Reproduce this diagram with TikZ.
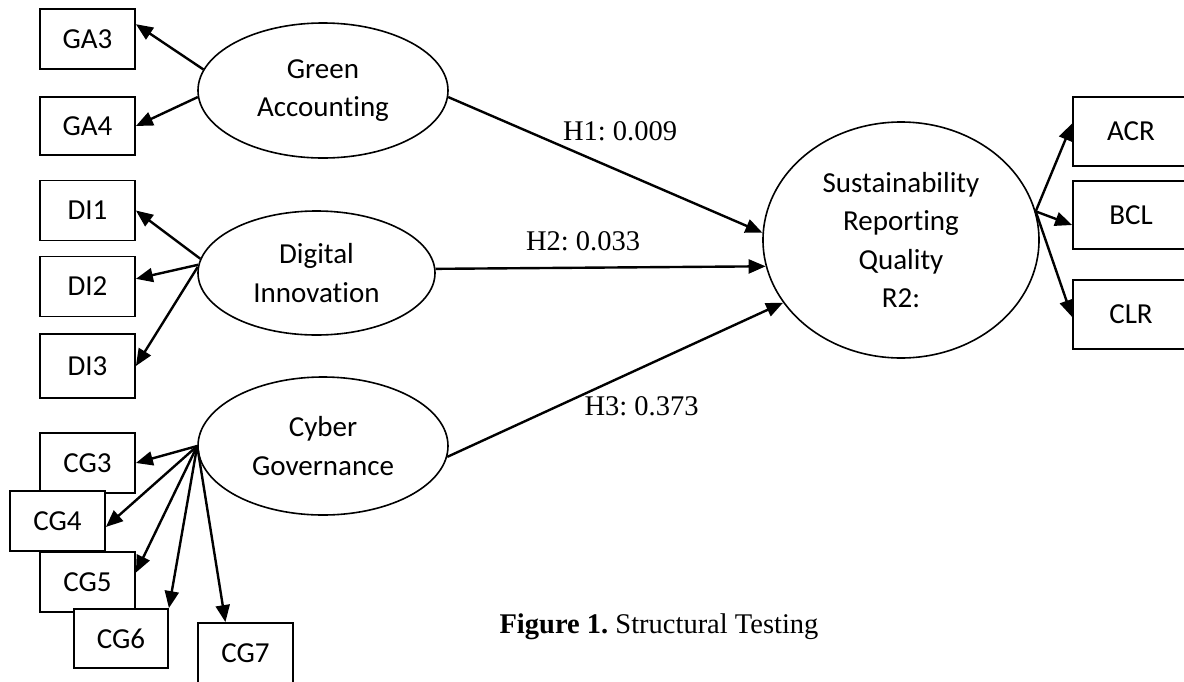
\documentclass[tikz,border=0pt]{standalone}
\usepackage{fontspec}
\setmainfont{Liberation Serif}
\newfontfamily\calibri[Ligatures=NoCommon]{Carlito}
\usetikzlibrary{arrows.meta,shapes.geometric}
\frenchspacing
\begin{document}
\begin{tikzpicture}[x=1pt,y=-1pt,
  ind/.style={draw,line width=1.8pt,fill=white,minimum width=95pt,minimum height=60pt,
    inner sep=0pt,font=\calibri\fontsize{29}{38.5}\selectfont},
  lat/.style={draw,ellipse,line width=1.6pt,inner sep=0pt,align=center,
    font=\calibri\fontsize{29}{38.5}\selectfont},
  ld/.style={line width=2.4pt,-{Triangle[length=17pt,width=14pt]}},
  coef/.style={font=\fontsize{28.5}{34}\selectfont,anchor=base,inner sep=0pt}]
\useasboundingbox (0,0) rectangle (1184,681);
\clip (0,0) rectangle (1184,681);

% latent constructs
\node[lat,minimum width=250pt,minimum height=135pt] (ga) at (323,90.5) {Green\\Accounting};
\node[lat,minimum width=237pt,minimum height=124pt] (di) at (316.5,273) {Digital\\Innovation};
\node[lat,minimum width=250pt,minimum height=138pt] (cg) at (323,446) {Cyber\\Governance};
\node[lat,minimum width=276pt,minimum height=236pt] (srq) at (901,240) {Sustainability\\Reporting\\Quality\\R2:};

% indicators
\node[ind] (ga3) at (87.5,39) {GA3};
\node[ind,minimum height=58pt] (ga4) at (87.5,126) {GA4};
\node[ind] (di1) at (87.5,210.5) {DI1};
\node[ind] (di2) at (87.5,286.5) {DI2};
\node[ind,minimum height=64pt] (di3) at (87.5,366) {DI3};
\node[ind] (cg3) at (87.5,463) {CG3};
\node[ind] (cg4) at (57.5,521) {CG4};
\node[ind] (cg5) at (87.5,582) {CG5};
\node[ind,minimum width=94pt,minimum height=59pt] (cg6) at (121,638.5) {CG6};
\node[ind] (cg7) at (245.5,653) {CG7};
\node[ind,minimum width=116pt,minimum height=69pt] (acr) at (1131,131.5) {ACR};
\node[ind,minimum width=116pt,minimum height=68pt] (bcl) at (1131,215) {BCL};
\node[ind,minimum width=116pt,minimum height=69pt] (clr) at (1131,314.5) {CLR};

% loadings
\draw[ld] (ga.170) -- (ga3.17);
\draw[ld] (ga.183) -- (ga4.east);
\draw[ld] (di.173) -- (di1.east);
\draw[ld] (di.176) -- (di2.9);
\draw[ld] (di.177) -- (di3.east);
\draw[ld] (cg.west) -- (cg3.east);
\draw[ld] (cg.west) -- (cg4.-7);
\draw[ld] (cg.west) -- (cg5.11);
\draw[ld] (cg.west) -- (cg6.north east);
\draw[ld] (cg.west) -- (cg7.123);
\draw[ld] (srq.12) -- ([yshift=8pt]acr.west);
\draw[ld] (srq.12) -- ([yshift=-10pt]bcl.west);
\draw[ld] (srq.12) -- ([yshift=-2.5pt]clr.west);

% structural paths
\draw[ld] (ga.-3) -- (srq.177);
\draw[ld] (di.2) -- (srq.191);
\draw[ld] (cg.-5) -- (srq.208);

\node[coef] (h1) at (620,140) {H1: 0.009};
\node[coef] (h2) at (583,250) {H2: 0.033};
\node[coef] (h3) at (641.5,415) {H3: 0.373};

\node[coef] (caption) at (659,633) {\textbf{Figure 1.} Structural Testing};
\end{tikzpicture}
\end{document}
